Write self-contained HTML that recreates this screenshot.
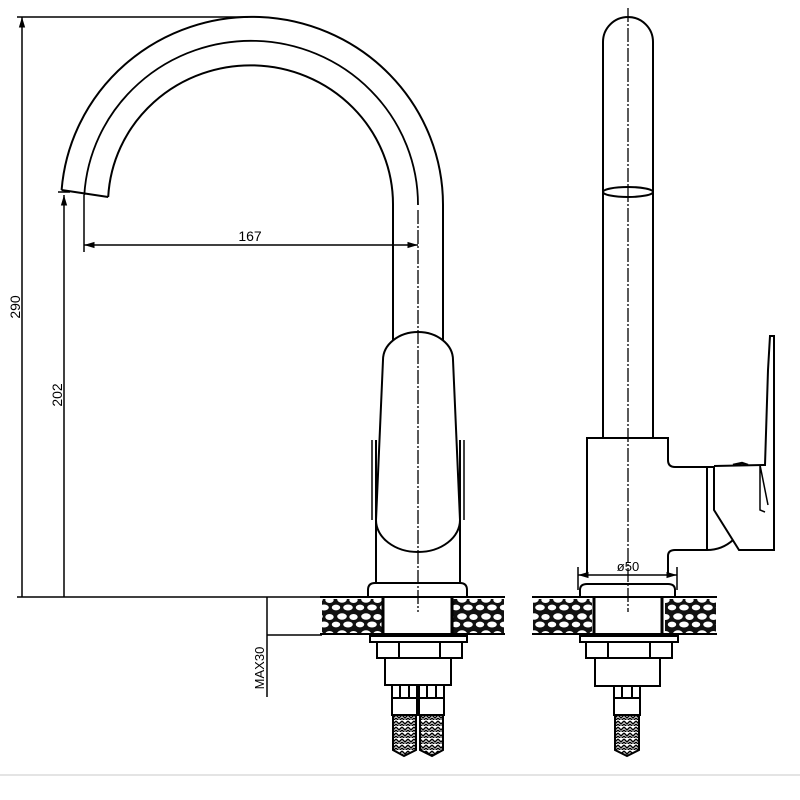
<!DOCTYPE html>
<html><head><meta charset="utf-8"><style>html,body{margin:0;padding:0;background:#fff}svg{display:block}</style></head><body>
<svg width="800" height="800" viewBox="0 0 800 800" xmlns="http://www.w3.org/2000/svg">
<defs>
<marker id="ar" viewBox="0 0 10 10" refX="10" refY="5" markerWidth="7" markerHeight="7" orient="auto-start-reverse"><path d="M0,2 L10,5 L0,8 z" fill="#000"/></marker>
<pattern id="stone" width="24" height="17" patternUnits="userSpaceOnUse">
<rect width="24" height="17" fill="#111"/>
<ellipse cx="6" cy="4.5" rx="4.8" ry="3.2" fill="#fff"/>
<ellipse cx="17.5" cy="5" rx="4.2" ry="3" fill="#fff"/>
<ellipse cx="12" cy="12.5" rx="4.8" ry="3" fill="#fff"/>
<ellipse cx="0" cy="12.5" rx="4.2" ry="2.9" fill="#fff"/>
<ellipse cx="24" cy="12.5" rx="4.2" ry="2.9" fill="#fff"/>
</pattern>
<pattern id="braid" width="6" height="6" patternUnits="userSpaceOnUse">
<rect width="6" height="6" fill="#fff"/>
<path d="M0,1 L3,4 L6,1 M0,4 L3,7 L6,4" stroke="#000" stroke-width="1.4" fill="none"/>
</pattern>
</defs>
<g fill="none" stroke="#000" stroke-width="2">
<line x1="17" y1="17" x2="248" y2="17" stroke-width="1.5"/>
<line x1="22" y1="17" x2="22" y2="597" stroke-width="1.5" marker-start="url(#ar)"/>
<line x1="17" y1="597" x2="322" y2="597" stroke-width="1.5"/>
<line x1="58" y1="192" x2="70" y2="192" stroke-width="1.5"/>
<line x1="64" y1="195" x2="64" y2="597" stroke-width="1.5" marker-start="url(#ar)"/>
<line x1="84" y1="195" x2="84" y2="252" stroke-width="1.5"/>
<line x1="84" y1="245" x2="418" y2="245" stroke-width="1.5" marker-start="url(#ar)" marker-end="url(#ar)"/>
<line x1="267" y1="597" x2="267" y2="697" stroke-width="1.5"/>
<line x1="267" y1="635" x2="322" y2="635" stroke-width="1.5"/>
<path d="M61.6,190 A191,188 0 0 1 443,205 L443,340"/>
<path d="M84.3,195 A167,164 0 0 1 418,205" stroke-width="1.8"/>
<path d="M108.2,197 A142.5,139 0 0 1 393,205 L393,340"/>
<path d="M61.6,190 L108.2,197"/>
<path d="M383,360 A35,28 0 0 1 453,360 L460,520 A42,32 0 0 1 376,520 Z"/>
<path d="M376,440 L376,583 M460,440 L460,583"/>
<path d="M372,440 L372,520 M464,440 L464,520" stroke-width="1.5"/>
<path d="M368,597 L368,590 Q368,583 375,583 L460,583 Q467,583 467,590 L467,597"/>
<line x1="418" y1="210" x2="418" y2="612" stroke-width="1.3" stroke-dasharray="14 2 2 2"/>
<rect x="322" y="599" width="60" height="34" fill="url(#stone)" stroke="none"/>
<rect x="452" y="599" width="52" height="34" fill="url(#stone)" stroke="none"/>
<line x1="320" y1="597" x2="505" y2="597"/>
<line x1="320" y1="634" x2="505" y2="634"/>
<path d="M383,597 L383,634 M452,597 L452,634" stroke-width="3"/>
<rect x="370" y="636" width="97" height="6"/>
<rect x="377" y="642" width="85" height="16"/>
<path d="M399,642 L399,658 M440,642 L440,658"/>
<rect x="385" y="658" width="66" height="27"/>
<rect x="392" y="685" width="25" height="30"/><rect x="419" y="685" width="25" height="30"/>
<path d="M392,698 L417,698 M419,698 L444,698 M400,685 L400,698 M409,685 L409,698 M427,685 L427,698 M436,685 L436,698"/>
<path d="M393,715 L416,715 L416,750 L404,756 L393,750 Z" fill="url(#braid)"/>
<path d="M420,715 L443,715 L443,750 L432,756 L420,750 Z" fill="url(#braid)"/>
<path d="M603,438 L603,42 A25,25 0 0 1 653,42 L653,438"/>
<ellipse cx="628" cy="192" rx="25" ry="5"/>
<line x1="628" y1="8" x2="628" y2="612" stroke-width="1.3" stroke-dasharray="14 2 2 2"/>
<path d="M587,575 L587,438 L668,438 L668,460 Q668,467 675,467 L714,467 M707,467 L707,550 M714,467 L714,510 L739,550 L774,550 L774,336 L770,336 L768,370 L765,465 L714,466"/>
<path d="M668,575 L668,556 Q668,550 675,550 L707,550 Q722,550 733,540"/>
<path d="M760,465 L768,505 M760,465 L760,510 L765,512" stroke-width="1.5"/>
<path d="M733,465 L742,463 L748,465" stroke-width="2.5"/>
<line x1="578" y1="567" x2="578" y2="590" stroke-width="1.5"/>
<line x1="677" y1="567" x2="677" y2="590" stroke-width="1.5"/>
<line x1="578" y1="575" x2="677" y2="575" stroke-width="1.5" marker-start="url(#ar)" marker-end="url(#ar)"/>
<path d="M580,597 L580,590 Q580,584 587,584 L668,584 Q675,584 675,590 L675,597"/>
<rect x="533" y="599" width="59" height="34" fill="url(#stone)" stroke="none"/>
<rect x="665" y="599" width="51" height="34" fill="url(#stone)" stroke="none"/>
<line x1="532" y1="597" x2="717" y2="597"/>
<line x1="532" y1="634" x2="717" y2="634"/>
<path d="M594,597 L594,634 M662,597 L662,634" stroke-width="3"/>
<rect x="580" y="636" width="98" height="6"/>
<rect x="586" y="642" width="86" height="16"/>
<path d="M608,642 L608,658 M650,642 L650,658"/>
<rect x="595" y="658" width="65" height="28"/>
<rect x="614" y="686" width="26" height="29"/>
<path d="M614,698 L640,698 M622,686 L622,698 M632,686 L632,698"/>
<path d="M615,715 L639,715 L639,750 L627,756 L615,750 Z" fill="url(#braid)"/>
</g>
<line x1="0" y1="775" x2="800" y2="775" stroke="#e4e4e4" stroke-width="2"/>
<g font-family="Liberation Sans, sans-serif" font-size="14" fill="#000">
<text x="250" y="241" text-anchor="middle">167</text>
<text transform="translate(20,307) rotate(-90)" text-anchor="middle">290</text>
<text transform="translate(62,395) rotate(-90)" text-anchor="middle">202</text>
<text transform="translate(264,668) rotate(-90)" text-anchor="middle" font-size="13">MAX30</text>
<text x="628" y="571" text-anchor="middle" font-size="13">ø50</text>
</g>
</svg>
</body></html>
